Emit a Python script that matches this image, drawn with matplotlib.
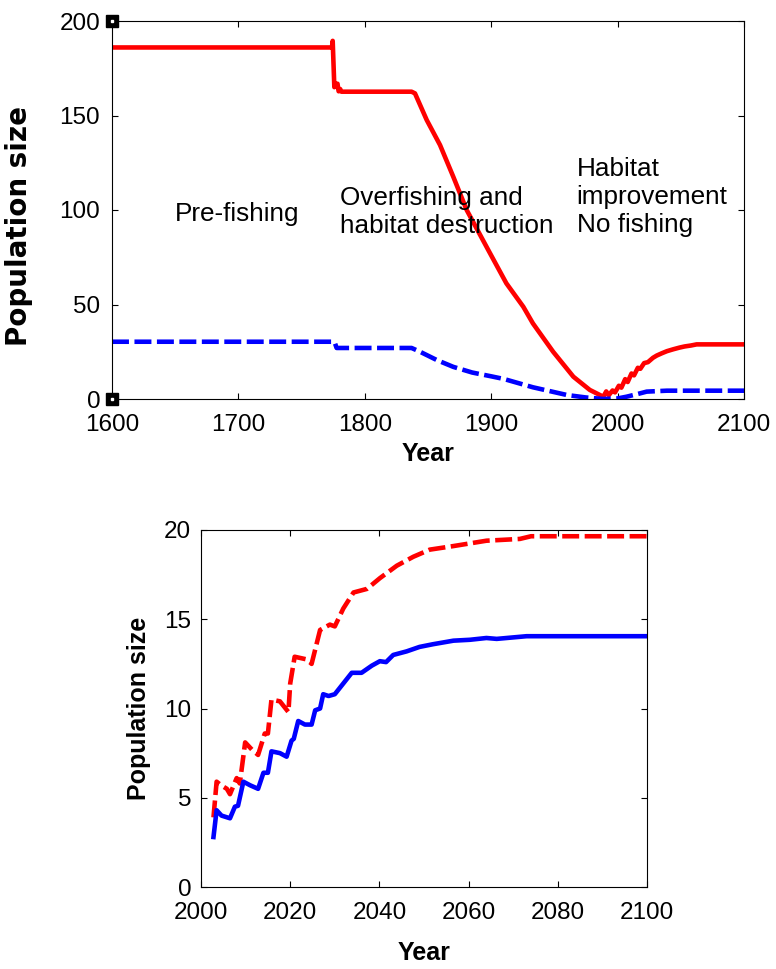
import matplotlib
matplotlib.use("Agg")
import matplotlib.pyplot as plt

plt.rcParams['font.family'] = ['Liberation Sans', 'DejaVu Sans']

RED = '#ff0000'
BLUE = '#0000ff'

# ---- top panel: long-term history (1600-2100)
top_red_year = [1600, 1774, 1774.6, 1775.9, 1777.3, 1778.4, 1779.3, 1780.5, 1781.5,
                1837, 1839.7, 1849, 1859.5, 1870, 1880.6, 1897.7, 1912, 1925.4, 1933,
                1949, 1965, 1978, 1988.7, 1991, 1993, 1996, 1998, 2001, 2003, 2006,
                2008, 2011, 2013, 2016, 2018, 2021, 2024, 2028, 2031, 2035, 2039,
                2044, 2049, 2053, 2058, 2062.5, 2100]
top_red_pop = [186, 186, 189.5, 165.0, 166.8, 166.8, 162.8, 164.0, 162.6,
               162.6, 161.7, 147.6, 134.4, 117.6, 100, 78.8, 61.2, 48.8, 40,
               25, 11.8, 4.8, 1.2, 4.0, 2.0, 4.5, 3.5, 7.0, 6.0, 10.5,
               9.0, 13.5, 12.5, 16.5, 16.0, 19.0, 19.5, 21.8, 23.0, 24.2, 25.3,
               26.3, 27.2, 27.8, 28.3, 28.9, 28.9]

top_blue_year = [1600, 1776, 1777.7, 1837, 1843.7, 1857, 1870, 1885, 1900, 1910,
                 1933, 1960, 1975, 1988.7, 2000, 2007, 2015, 2023, 2039, 2100]
top_blue_pop = [30.3, 30.3, 27.0, 27.0, 25.0, 20.6, 17.0, 14.0, 12.0, 10.6,
                6.2, 2.1, 0.8, 0.0, 0.3, 1.2, 2.5, 3.9, 4.4, 4.4]

top_xticks = [1600, 1700, 1800, 1900, 2000, 2100]
top_yticks = [0, 50, 100, 150, 200]

# ---- bottom panel: recovery (2000-2100)
bot_red_year = [2002.8, 2003.5, 2004.5, 2005.8, 2006.5, 2008, 2008.7, 2009.9, 2011.4,
                2012.8, 2014.3, 2015, 2015.8, 2017.7, 2019.6, 2020, 2021, 2023.7,
                2024.8, 2026.7, 2028.9, 2030, 2031.9, 2034.2, 2037.2, 2040.1, 2043.9,
                2047.6, 2051.3, 2056.6, 2064, 2071.5, 2074, 2100]
bot_red_pop = [3.9, 5.9, 5.7, 5.5, 5.2, 6.1, 5.8, 8.1, 7.7,
               7.4, 8.6, 8.6, 10.5, 10.4, 9.8, 11.4, 12.9, 12.75,
               12.5, 14.4, 14.7, 14.6, 15.6, 16.5, 16.7, 17.3, 18.0,
               18.5, 18.9, 19.1, 19.4, 19.5, 19.65, 19.65]

bot_blue_year = [2002.8, 2003.5, 2004.6, 2006.5, 2007.6, 2008.3, 2009.5, 2011, 2012.8,
                 2014, 2015, 2015.8, 2017.7, 2019.2, 2020.3, 2020.8, 2021.8, 2023.3,
                 2024.8, 2025.6, 2026.7, 2027.4, 2028.6, 2030, 2031.9, 2033.8, 2036,
                 2038.3, 2040.1, 2041.5, 2043.1, 2046.1, 2049, 2052, 2056.6, 2060.3,
                 2064, 2066.3, 2073, 2100]
bot_blue_pop = [2.8, 4.3, 4.0, 3.85, 4.5, 4.55, 5.9, 5.7, 5.5,
                6.4, 6.4, 7.6, 7.5, 7.3, 8.2, 8.3, 9.3, 9.1,
                9.1, 9.9, 10.0, 10.8, 10.7, 10.8, 11.4, 12.0, 12.0,
                12.4, 12.65, 12.6, 13.0, 13.2, 13.45, 13.6, 13.8, 13.85,
                13.95, 13.9, 14.05, 14.05]

bot_xticks = [2000, 2020, 2040, 2060, 2080, 2100]
bot_yticks = [0, 5, 10, 15, 20]

LW = 3.3
DASH = (3.7, 1.2)
TICK_FS = 17.5


def style_axes(ax, xpad, ypad):
    for s in ax.spines.values():
        s.set_linewidth(0.8)
    ax.tick_params(direction='in', length=4.5, width=0.8, top=True, right=True,
                   labelsize=TICK_FS)
    ax.tick_params(axis='x', pad=xpad)
    ax.tick_params(axis='y', pad=ypad)


fig = plt.figure(figsize=(7.76, 9.69), dpi=100)

ax0 = fig.add_axes([112 / 776, 1 - 399 / 969, 632 / 776, 378 / 969])
ax0.plot(top_red_year, top_red_pop, color=RED, lw=LW, solid_joinstyle='round')
ax0.plot(top_blue_year, top_blue_pop, color=BLUE, lw=LW, dashes=DASH)
# corner markers drawn by the original software
for yv in (0, 200):
    ax0.plot([1600], [yv], marker='s', ms=8, color='black', clip_on=False, zorder=5)
    ax0.plot([1600], [yv], marker='s', ms=1.8, color='white', clip_on=False, zorder=6)
ax0.set_xlim(1600, 2100)
ax0.set_ylim(0, 200)
ax0.set_xticks(top_xticks)
ax0.set_yticks(top_yticks)
style_axes(ax0, 11, 8.5)
ax0.set_xlabel("Year", fontsize=18, fontweight='bold', labelpad=4)
ax0.set_ylabel("Population size", fontsize=20, fontweight='bold',
               family='DejaVu Sans')
ax0.yaxis.set_label_coords(-0.125, 0.458)

# va='baseline' on multi-line text anchors the last line
txt_kw = dict(fontsize=18.8, va='baseline', ha='left', linespacing=1.2)
ax0.text(1649.8, 94.2, "Pre-fishing", **txt_kw)
ax0.text(1780.4, 87.7, "Overfishing and\nhabitat destruction", **txt_kw)
ax0.text(1967.6, 88.5, "Habitat\nimprovement\nNo fishing", **txt_kw)

ax1 = fig.add_axes([201 / 776, 1 - 887 / 969, 446 / 776, 357 / 969])
ax1.plot(bot_red_year, bot_red_pop, color=RED, lw=LW, dashes=DASH)
ax1.plot(bot_blue_year, bot_blue_pop, color=BLUE, lw=LW, solid_joinstyle='round')
ax1.set_xlim(2000, 2100)
ax1.set_ylim(0, 20)
ax1.set_xticks(bot_xticks)
ax1.set_yticks(bot_yticks)
style_axes(ax1, 11, 7)
ax1.set_xlabel("Year", fontsize=18, fontweight='bold', labelpad=12)
ax1.set_ylabel("Population size", fontsize=18, fontweight='bold')
ax1.yaxis.set_label_coords(-0.113, 0.5)

fig.savefig("out.png", dpi=100)
